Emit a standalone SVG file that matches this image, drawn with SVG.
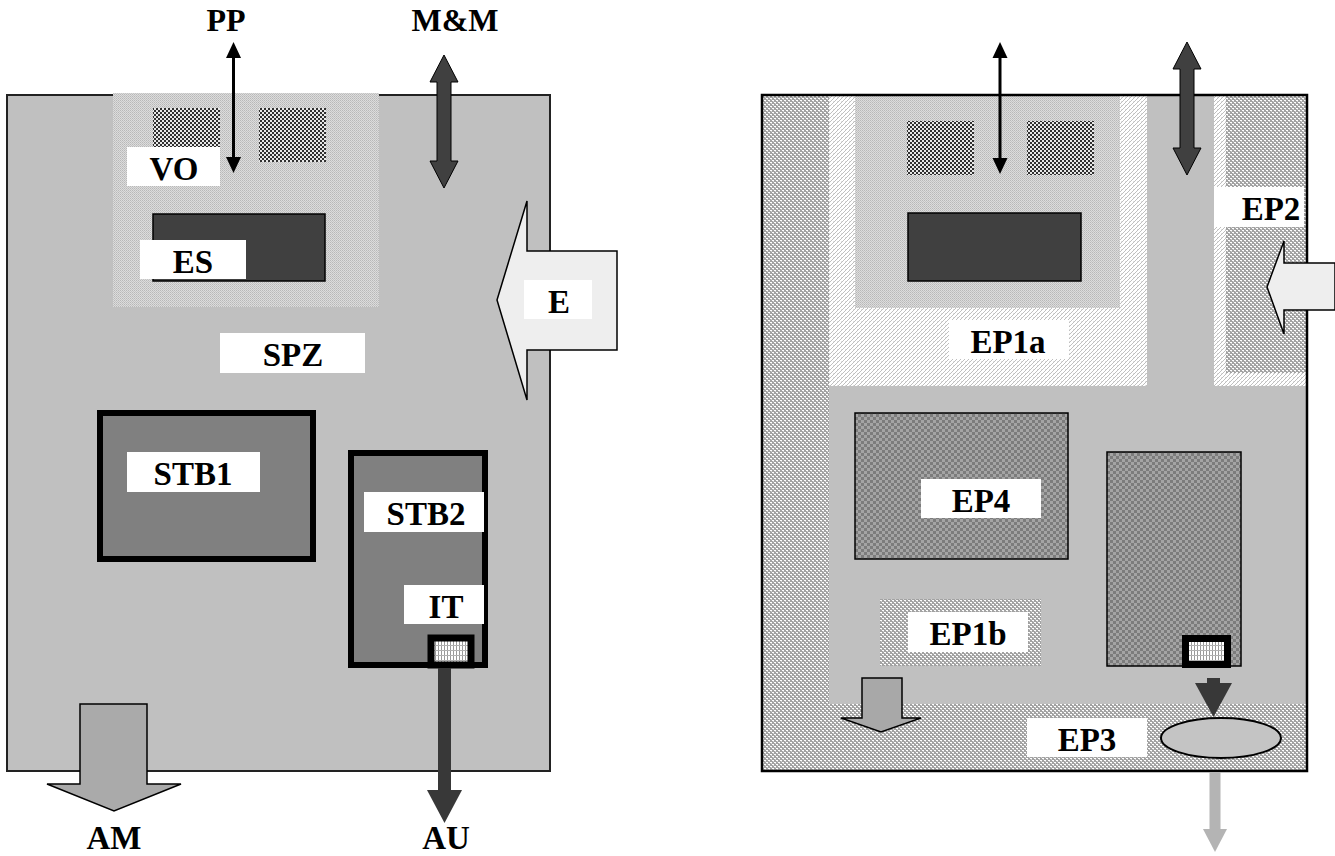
<svg xmlns="http://www.w3.org/2000/svg" width="1335" height="856" viewBox="0 0 1335 856">
<defs>
<style>
.lbl{font-family:"Liberation Serif","Times New Roman",serif;font-weight:bold;font-size:33px;fill:#000;text-anchor:middle}
.top{font-size:32px}
.box{fill:#fff}
.bg{fill:#c0c0c0}
.dark{fill:#404040;stroke:#000;stroke-width:1.5}
.stb{fill:#808080;stroke:#000;stroke-width:6}
.itb{fill:url(#pGrid);stroke:#000;stroke-width:7}
.blk{fill:#eeeeee;stroke:#000;stroke-width:1.5}
</style>
<pattern id="pLight" width="2" height="2" patternUnits="userSpaceOnUse">
<rect width="2" height="2" fill="#dcdcdc"/><rect width="1" height="1" fill="#b8b8b8"/><rect x="1" y="1" width="1" height="1" fill="#c4c4c4"/>
</pattern>
<pattern id="pCheck" width="4" height="4" patternUnits="userSpaceOnUse">
<rect width="4" height="4" fill="#e8e8e8"/><rect width="2" height="2" fill="#303030"/><rect x="2" y="2" width="2" height="2" fill="#303030"/>
</pattern>
<pattern id="pWeave" width="4" height="4" patternUnits="userSpaceOnUse">
<rect width="4" height="4" fill="#a2a2a2"/><rect width="2" height="1" fill="#ffffff"/><rect x="2" y="2" width="2" height="1" fill="#ffffff"/><rect x="1" y="1" width="1" height="1" fill="#d0d0d0"/><rect x="3" y="3" width="1" height="1" fill="#d0d0d0"/>
</pattern>
<pattern id="pStripe" width="4" height="4" patternUnits="userSpaceOnUse">
<rect width="4" height="4" fill="#ffffff"/><path d="M0 4L4 0" stroke="#b8b8b8" stroke-width="0.9"/><rect x="1" y="1" width="1" height="1" fill="#e0e0e0"/>
</pattern>
<pattern id="pGrayCheck" width="6" height="6" patternUnits="userSpaceOnUse">
<rect width="6" height="6" fill="#a4a4a4"/><rect width="3" height="3" fill="#7c7c7c"/><rect x="3" y="3" width="3" height="3" fill="#7c7c7c"/>
</pattern>
<pattern id="pGrid" width="3" height="5" patternUnits="userSpaceOnUse">
<rect width="3" height="5" fill="#ffffff"/><rect width="1" height="5" fill="#9a9a9a"/><rect width="3" height="1" fill="#b0b0b0"/>
</pattern>
</defs>

<!-- LEFT PANEL -->
<g id="SPZ">
<rect x="7" y="95" width="543" height="676" class="bg" stroke="#222" stroke-width="2"/>
</g>
<g id="VO">
<rect x="113" y="93" width="266" height="214" fill="url(#pLight)"/>
<rect x="153" y="108" width="67" height="54" fill="url(#pCheck)"/>
<rect x="259" y="108" width="67" height="54" fill="url(#pCheck)"/>
<rect x="127" y="147" width="93" height="39" class="box"/>
<text x="174" y="180" class="lbl">VO</text>
</g>
<g id="ES">
<rect x="153" y="214" width="172" height="67" class="dark"/>
<rect x="140" y="240" width="106" height="39" class="box"/>
<text x="193" y="273" class="lbl">ES</text>
</g>
<g id="SPZ-label">
<rect x="220" y="333" width="145" height="40" class="box"/>
<text x="293" y="366" class="lbl">SPZ</text>
</g>
<g id="STB1">
<rect x="100" y="413" width="213" height="146" class="stb"/>
<rect x="127" y="452" width="133" height="40" class="box"/>
<text x="193" y="485" class="lbl">STB1</text>
</g>
<g id="STB2">
<rect x="351" y="453" width="134" height="212" class="stb"/>
<rect x="364" y="492" width="120" height="40" class="box"/>
<text x="426" y="525" class="lbl">STB2</text>
</g>
<g id="IT">
<rect x="404" y="585" width="80" height="39" class="box"/>
<text x="446" y="618" class="lbl">IT</text>
<rect x="431" y="638" width="40" height="27" class="itb"/>
</g>

<g id="connectors-left">
<path d="M233.5 56V159" stroke="#000" stroke-width="3"/>
<polygon points="233.5,42 241,58 226,58" fill="#000"/>
<polygon points="233.5,173 241,157 226,157" fill="#000"/>
<polygon points="444,55 458,82 451,82 451,161 458,161 444,188 430,161 437,161 437,82 430,82" fill="#404040" stroke="#000" stroke-width="1"/>
<polygon points="497,300 527,201 527,251 617,251 617,350 527,350 527,400" class="blk"/>
<rect x="438" y="668" width="13" height="123" fill="#383838"/>
<polygon points="427,790 462,790 444.5,823" fill="#383838"/>
<polygon points="80,704 147,704 147,784 181,784 114,811 47,784 80,784" fill="#aaaaaa" stroke="#000" stroke-width="1.5"/>
</g>
<g id="E">
<rect x="524" y="280" width="68" height="39" class="box"/>
<text x="559" y="313" class="lbl">E</text>
</g>
<g id="PP"><text x="226" y="31" class="lbl top">PP</text></g>
<g id="MM"><text x="455" y="31" class="lbl top">M&amp;M</text></g>
<g id="AM"><text x="114" y="849" class="lbl">AM</text></g>
<g id="AU"><text x="446" y="849" class="lbl">AU</text></g>

<!-- RIGHT PANEL -->
<g id="right-base">
<rect x="762" y="95" width="545" height="676" fill="url(#pWeave)"/>
<rect x="829" y="386" width="478" height="318" class="bg"/>
<rect x="1147" y="95" width="67" height="291" class="bg"/>
</g>
<g id="EP1a">
<rect x="829" y="95" width="318" height="291" fill="url(#pStripe)"/>
<rect x="855" y="95" width="265" height="213" fill="url(#pLight)"/>
<rect x="907" y="121" width="67" height="54" fill="url(#pCheck)"/>
<rect x="1027" y="121" width="67" height="54" fill="url(#pCheck)"/>
<rect x="908" y="213" width="173" height="68" class="dark"/>
<rect x="949" y="320" width="120" height="39" class="box"/>
<text x="1008" y="353" class="lbl">EP1a</text>
</g>
<g id="EP2">
<rect x="1214" y="95" width="93" height="291" fill="url(#pStripe)"/>
<rect x="1226" y="95" width="81" height="278" fill="url(#pWeave)"/>
<rect x="1214" y="187" width="90" height="40" class="box"/>
<text x="1271" y="220" class="lbl">EP2</text>
</g>
<g id="EP4">
<rect x="855" y="413" width="213" height="146" fill="url(#pGrayCheck)" stroke="#000" stroke-width="1.5"/>
<rect x="921" y="479" width="120" height="39" class="box"/>
<text x="981" y="512" class="lbl">EP4</text>
</g>
<g id="EP4b">
<rect x="1107" y="452" width="134" height="214" fill="url(#pGrayCheck)" stroke="#000" stroke-width="1.5"/>
<rect x="1185.5" y="638.5" width="42" height="26" class="itb"/>
</g>
<g id="EP1b">
<rect x="880" y="599" width="161" height="67" fill="url(#pWeave)"/>
<rect x="908" y="612" width="120" height="40" class="box"/>
<text x="968" y="645" class="lbl">EP1b</text>
</g>
<g id="EP3">
<rect x="829" y="704" width="478" height="67" fill="url(#pWeave)"/>
<rect x="1027" y="718" width="120" height="39" class="box"/>
<text x="1087" y="751" class="lbl">EP3</text>
<ellipse cx="1221" cy="738" rx="60" ry="20" fill="#c4c4c4" stroke="#000" stroke-width="2"/>
</g>
<g id="right-frame">
<rect x="762" y="95" width="545" height="676" fill="none" stroke="#000" stroke-width="2.5"/>
</g>
<g id="connectors-right">
<path d="M1000 56V160" stroke="#000" stroke-width="3"/>
<polygon points="1000,42 1007.5,58 992.5,58" fill="#000"/>
<polygon points="1000,174 1007.5,158 992.5,158" fill="#000"/>
<polygon points="1187,42 1201,69 1194,69 1194,148 1201,148 1187,175 1173,148 1180,148 1180,69 1173,69" fill="#404040" stroke="#000" stroke-width="1"/>
<polygon points="1267,287 1284,241 1284,263 1335,263 1335,310 1284,310 1284,334" class="blk"/>
<polygon points="862,678 902,678 902,718 921,718 881,732 841,718 862,718" fill="#a8a8a8" stroke="#000" stroke-width="1.5"/>
<rect x="1207" y="678" width="13" height="6" fill="#383838"/>
<polygon points="1195,683 1232,683 1213.5,717" fill="#383838"/>
<rect x="1209.5" y="772" width="11" height="59" fill="#b4b4b4"/>
<polygon points="1203,829 1227,829 1215,852" fill="#b4b4b4"/>
</g>
</svg>
